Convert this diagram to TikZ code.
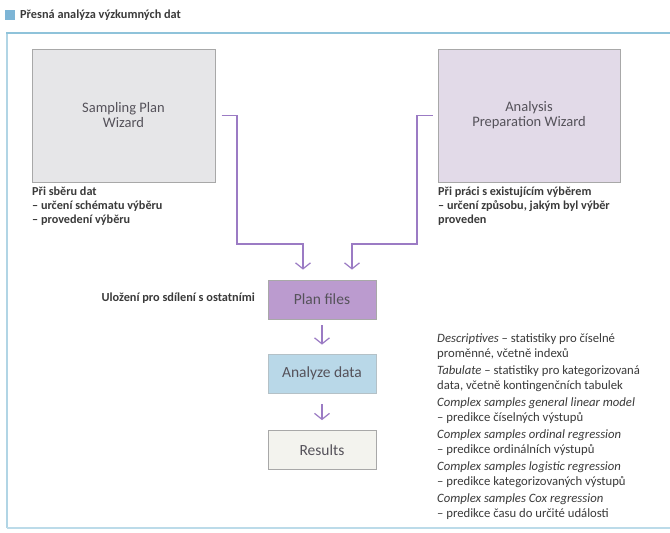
\documentclass[tikz,border=0pt]{standalone}
\usepackage{fontspec}
\setmainfont{Carlito}
\usetikzlibrary{arrows.meta,positioning}
\definecolor{framecol}{HTML}{8FC3DA}
\definecolor{titlesq}{HTML}{7DB5D6}
\definecolor{conncol}{HTML}{9B7BC4}
\definecolor{spwfill}{HTML}{E6E6E8}
\definecolor{apwfill}{HTML}{E2DAE8}
\definecolor{pffill}{HTML}{BB9BCF}
\definecolor{adfill}{HTML}{B9D8E8}
\definecolor{resfill}{HTML}{F3F3EE}
\definecolor{boxline}{HTML}{A8A8A8}
\definecolor{txt}{HTML}{3A3A3A}
\definecolor{boxtxt}{HTML}{55525A}
\tikzset{
  bigbox/.style={draw=boxline, line width=1pt, minimum width=183pt, minimum height=133pt, align=center, text=boxtxt, font=\fontsize{14.5}{15}\selectfont, inner sep=0pt},
  smallbox/.style={draw=boxline, line width=0.8pt, minimum width=108pt, minimum height=39pt, align=center, text=boxtxt, font=\fontsize{15.5}{14}\selectfont, inner sep=0pt},
  note/.style={align=left, anchor=north west, text=txt, font=\fontsize{12.2}{14}\selectfont\bfseries, inner sep=0pt},
  listtxt/.style={align=left, anchor=north west, text=txt, font=\fontsize{12.7}{15}\selectfont, inner sep=0pt},
  conn/.style={draw=conncol, line width=1.2pt, -{Straight Barb[length=6pt,width=15pt,line width=1.2pt]}},
}
\begin{document}
\begin{tikzpicture}[x=1pt,y=-1pt]
\useasboundingbox (0,0) rectangle (670,533);
\fill[white] (0,0) rectangle (670,533);
% frame
\fill[white] (6,33) rectangle (672,528);
\draw[framecol!70, line width=1.5pt] (7,33) -- (7,528);
\draw[framecol!60, line width=1.5pt] (7,528) -- (672,528);
\draw[framecol, line width=2.5pt] (6,33) -- (672,33);
% title
\node[fill=titlesq, minimum size=10pt, inner sep=0pt] (tsq) at (10,15) {};
\node[anchor=west, inner sep=0pt, text=txt, font=\fontsize{12.3}{13}\selectfont\bfseries] (title) at (20,15) {Přesná analýza výzkumných dat};
% big boxes
\node[bigbox, fill=spwfill] (spw) at (123.5,115.5) {Sampling Plan\\Wizard};
\node[bigbox, fill=apwfill, minimum width=182pt] (apw) at (529,115.5) {Analysis\\Preparation Wizard};
% notes
\node[note] (n1) at (32,187) {Při sběru dat\\– určení schématu výběru\\– provedení výběru};
\node[note] (n2) at (438,187) {Při práci s existujícím výběrem\\– určení způsobu, jakým byl výběr\\proveden};
% flow boxes
\node[smallbox, fill=pffill] (pf) at (322,299.5) {Plan files};
\node[smallbox, fill=adfill, draw=adfill!70!black!60] (ad) at (322,373.5) {Analyze data};
\node[smallbox, fill=resfill] (res) at (322,450) {Results};
\node[note, anchor=east, font=\fontsize{12.3}{12}\selectfont\bfseries] (save) at (255,298) {Uložení pro sdílení s ostatními};
% connectors
\coordinate (lj) at (237,244);
\coordinate (rj) at (417,244);
\draw[conn] ([xshift=6pt]spw.east) -| (lj) -| ([xshift=-19pt,yshift=10pt]pf.north);
\draw[conn] ([xshift=-5pt]apw.west) -| (rj) -| ([xshift=30pt,yshift=10pt]pf.north);
\draw[conn] ([yshift=-6pt]pf.south) -- ([yshift=9pt]ad.north);
\draw[conn] ([yshift=-11pt]ad.south) -- ([yshift=10pt]res.north);
% list
\node[listtxt] (list) at (437,333) {%
\textit{Descriptives} – statistiky pro číselné\\
proměnné, včetně indexů\\[2pt]
\textit{Tabulate} – statistiky pro kategorizovaná\\
data, včetně kontingenčních tabulek\\[2pt]
\textit{Complex samples general linear model}\\
– predikce číselných výstupů\\[2pt]
\textit{Complex samples ordinal regression}\\
– predikce ordinálních výstupů\\[2pt]
\textit{Complex samples logistic regression}\\
– predikce kategorizovaných výstupů\\[2pt]
\textit{Complex samples Cox regression}\\
– predikce času do určité události};
\end{tikzpicture}
\end{document}
